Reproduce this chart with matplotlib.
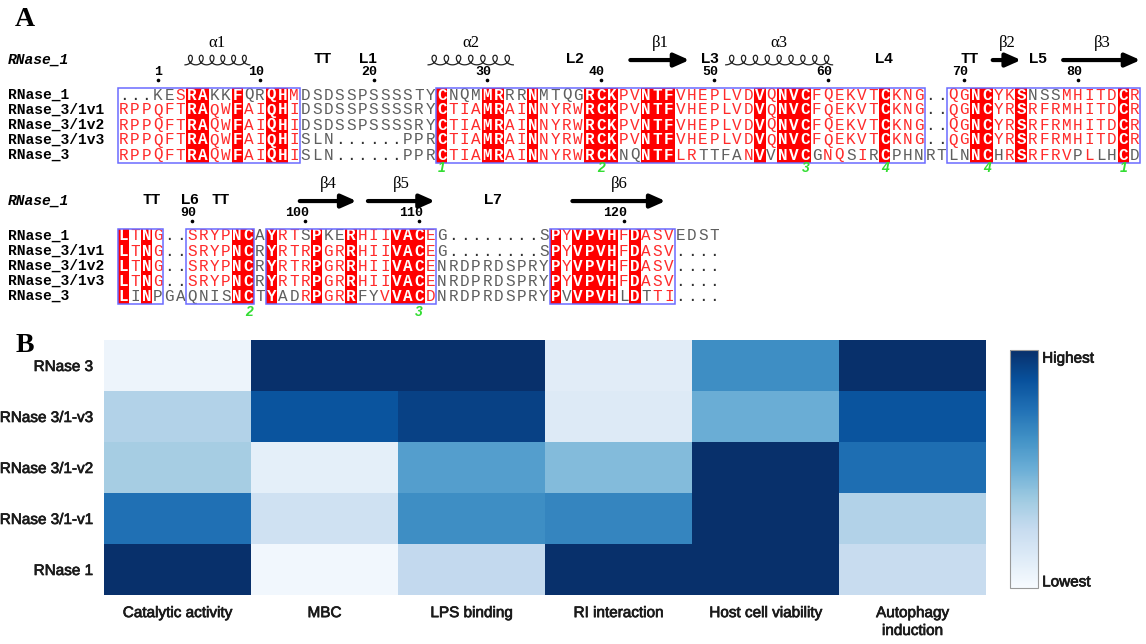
import matplotlib.pyplot as plt
import matplotlib.patheffects as pe
import numpy as np
from matplotlib.patches import Rectangle

# ---------------- panel A: alignment ----------------
seq_names = ['RNase_1', 'RNase_3/1v1', 'RNase_3/1v2', 'RNase_3/1v3', 'RNase_3']

block1_seqs = [
    '...KESRAKKFQRQHMDSDSSPSSSSTYCNQMMRRRNMTQGRCKPVNTFVHEPLVDVQNVCFQEKVTCKNG..QGNCYKSNSSMHITDCR',
    'RPPQFTRAQWFAIQHIDSDSSPSSSSRYCTIAMRAINNYRWRCKPVNTFVHEPLVDVQNVCFQEKVTCKNG..QGNCYRSRFRMHITDCR',
    'RPPQFTRAQWFAIQHIDSDSSPSSSSRYCTIAMRAINNYRWRCKPVNTFVHEPLVDVQNVCFQEKVTCKNG..QGNCYRSRFRMHITDCR',
    'RPPQFTRAQWFAIQHISLN......PPRCTIAMRAINNYRWRCKPVNTFVHEPLVDVQNVCFQEKVTCKNG..QGNCYRSRFRMHITDCR',
    'RPPQFTRAQWFAIQHISLN......PPRCTIAMRAINNYRWRCKNQNTFLRTTFANVVNVCGNQSIRCPHNRTLNNCHRSRFRVPLLHCD',
]
block2_seqs = [
    'LTNG..SRYPNCAYRTSPKERHIIVACEG........SPYVPVHFDASVEDST',
    'LTNG..SRYPNCRYRTRPGRRHIIVACEG........SPYVPVHFDASV....',
    'LTNG..SRYPNCRYRTRPGRRHIIVACENRDPRDSPRYPYVPVHFDASV....',
    'LTNG..SRYPNCRYRTRPGRRHIIVACENRDPRDSPRYPYVPVHFDASV....',
    'LINPGAQNISNCTYADRPGRRFYVVACDNRDPRDSPRYPVVPVHLDTTI....',
]

# framed (similar) column ranges
block1_frames = [(0, 15), (28, 70), (73, 89)]
block2_frames = [(0, 3), (6, 11), (13, 27), (38, 48)]

# secondary structure of RNase_1 (in alignment columns)
block1_helices = [(5.9, 11.6, 'α1'), (27.3, 34.8, 'α2'), (53.5, 62.9, 'α3')]
block1_strands = [(45.1, 50.3, 'β1'), (77.0, 79.5, 'β2'), (83.2, 90.0, 'β3')]
block1_marks = [('TT', 18.0), ('L1', 22.0), ('L2', 40.2), ('L3', 52.1),
                ('L4', 67.4), ('TT', 75.0), ('L5', 81.0)]
block2_helices = []
block2_strands = [(16.0, 21.0, 'β4'), (22.0, 27.9, 'β5'), (40.0, 48.2, 'β6')]
block2_marks = [('TT', 3.0), ('L6', 6.3), ('TT', 9.0), ('L7', 33.0)]

# disulfide bridge numbers under cysteines
block1_bonds = [(28, '1'), (42, '2'), (60, '3'), (67, '4'), (76, '4'), (88, '1')]
block2_bonds = [(11, '2'), (26, '3')]

# ---------------- panel B: heatmap ----------------
variants = ['RNase 3', 'RNase 3/1-v3', 'RNase 3/1-v2', 'RNase 3/1-v1', 'RNase 1']
features = ['Catalytic activity', 'MBC', 'LPS binding', 'RI interaction',
            'Host cell viability', 'Autophagy\ninduction']
activity = np.array([
    [0.05, 1.00, 1.00, 0.11, 0.64, 1.00],
    [0.31, 0.86, 0.93, 0.13, 0.50, 0.86],
    [0.35, 0.09, 0.57, 0.44, 1.00, 0.76],
    [0.75, 0.20, 0.64, 0.67, 1.00, 0.31],
    [1.00, 0.03, 0.26, 1.00, 1.00, 0.24],
])

groups = ['ILMV', 'FYW', 'KRH', 'DENQ', 'ST', 'AG']

W, H = 1146, 644
CW, RH = 11.36, 15.0   # px per column / row
X0 = 118               # px of alignment column 0

fig = plt.figure(figsize=(W / 100, H / 100), dpi=100)


def px_rect(x0, y0, x1, y1):
    return [x0 / W, 1 - y1 / H, (x1 - x0) / W, (y1 - y0) / H]


ax = fig.add_axes(px_rect(0, 0, W, 322))
ax.set_xlim(-X0 / CW, (W - X0) / CW)
ax.set_ylim(322 / RH, 0)
ax.axis('off')


def similar(a, b):
    return a == b or any(a in g and b in g for g in groups)


def draw_helix(a, b, y):
    n = max(1, int(round(b - a)))
    p = (b - a) / n
    t = np.linspace(0.5, n + 0.5, 80 * n)
    x = a + p * (t - 0.5 - 0.4 * np.sin(2 * np.pi * t))
    yy = y - 0.32 * np.cos(2 * np.pi * t)
    ax.plot(x, yy, color='#222222', lw=0.9)


def draw_strand(a, b, y):
    ax.annotate('', xy=(b, y), xytext=(a, y),
                arrowprops=dict(arrowstyle='-|>,head_length=0.45,head_width=0.2',
                                lw=3, color='black', shrinkA=0, shrinkB=0,
                                mutation_scale=20))


def draw_block(seqs, frames, helices, strands, marks, bonds, y0, res0, bond_dy):
    ncol = len(seqs[0])
    framed = np.zeros(ncol, bool)
    for a, b in frames:
        framed[a:b + 1] = True
        ax.add_patch(Rectangle((a, y0 - 0.5), b - a + 1, len(seqs), fill=False,
                               ec='#6b6bff', lw=1.1, zorder=3))
    for j in range(ncol):
        col = [s[j] for s in seqs]
        strict = len(set(col)) == 1 and col[0] != '.'
        cons = max(col, key=col.count)
        if strict:
            ax.add_patch(Rectangle((j, y0 - 0.5), 1, len(seqs), fc='#ff0000',
                                   ec='none', zorder=1))
        for i, ch in enumerate(col):
            if ch == '.':
                c, w = '#333333', 'normal'
            elif strict:
                c, w = 'white', 'bold'
            elif framed[j] and similar(ch, cons):
                c, w = '#ff2a2a', 'normal'
            else:
                c, w = '#5e5e5e', 'normal'
            ax.text(j + 0.5, y0 + i, ch, color=c, fontweight=w, ha='center',
                    va='center', family='Liberation Mono', fontsize=11.5, zorder=2)

    for i, name in enumerate(seq_names):
        ax.text(-110 / CW, y0 + i, name, ha='left', va='center',
                family='Liberation Mono', fontweight='bold', fontsize=10.5)

    # numbering from RNase_1
    n = res0
    for j, ch in enumerate(seqs[0]):
        if ch != '.':
            n += 1
            if n == 1 or n % 10 == 0:
                ax.text(j + 0.85, y0 - 1.55, str(n), ha='right', va='center',
                        family='Liberation Mono', fontweight='bold', fontsize=9.5)
                ax.plot(j + 0.5, y0 - 1.0, marker='o', ms=1.6, color='black')

    # secondary structure
    yss = y0 - 2.33
    ax.text(-110 / CW, yss, 'RNase_1', ha='left', va='center', family='Liberation Mono',
            fontweight='bold', fontstyle='italic', fontsize=10.5)
    for a, b, lab in helices:
        draw_helix(a, b, yss)
        ax.text((a + b) / 2, y0 - 3.45, lab, ha='center', va='center',
                family='Liberation Serif', fontsize=12)
    for a, b, lab in strands:
        draw_strand(a, b, yss)
        ax.text((a + b) / 2, y0 - 3.45, lab, ha='center', va='center',
                family='Liberation Serif', fontsize=12)
    for lab, x in marks:
        fam = 'Liberation Mono' if lab == 'TT' else 'Liberation Sans'
        ax.text(x, yss - 0.05, lab, ha='center', va='center', family=fam,
                fontweight='bold', fontsize=11)

    for j, lab in bonds:
        ax.text(j + 0.5, y0 + bond_dy, lab, ha='center', va='center', color='#33dd33',
                family='Liberation Sans', fontweight='bold', fontstyle='italic', fontsize=10)
    return n


last = draw_block(block1_seqs, block1_frames, block1_helices, block1_strands,
                  block1_marks, block1_bonds, 95 / RH, 0, 4.87)
draw_block(block2_seqs, block2_frames, block2_helices, block2_strands,
           block2_marks, block2_bonds, 236 / RH, last, 5.1)

fig.text(25 / W, 1 - 20 / H, 'A', ha='center', va='center', family='Liberation Serif',
         fontweight='bold', fontsize=20)
fig.text(25 / W, 1 - 345 / H, 'B', ha='center', va='center', family='Liberation Serif',
         fontweight='bold', fontsize=20)

# ---------------- panel B ----------------
thick = [pe.withStroke(linewidth=0.5, foreground='#1a1a1a')]
axh = fig.add_axes(px_rect(104, 340, 986, 595))
im = axh.imshow(activity, cmap='Blues', vmin=0, vmax=1, aspect='auto')
axh.set_xticks(range(len(features)))
axh.set_xticklabels(features, family='Liberation Sans', fontsize=11, color='#1a1a1a',
                    va='top', linespacing=1.35, path_effects=thick)
axh.set_yticks(range(len(variants)))
axh.set_yticklabels(variants, family='Liberation Sans', fontsize=11, color='#1a1a1a',
                    path_effects=thick)
axh.tick_params(length=0, pad=8)
for s in axh.spines.values():
    s.set_visible(False)

cax = fig.add_axes(px_rect(1010, 350, 1038, 588))
cb = fig.colorbar(im, cax=cax, ticks=[0.03, 0.97])
cb.ax.set_yticklabels(['Lowest', 'Highest'], family='Liberation Sans', fontsize=11,
                      color='#1a1a1a', path_effects=thick)
cb.ax.tick_params(length=0, pad=3)
cb.outline.set_edgecolor('#999999')

fig.savefig('out.png', dpi=100)
